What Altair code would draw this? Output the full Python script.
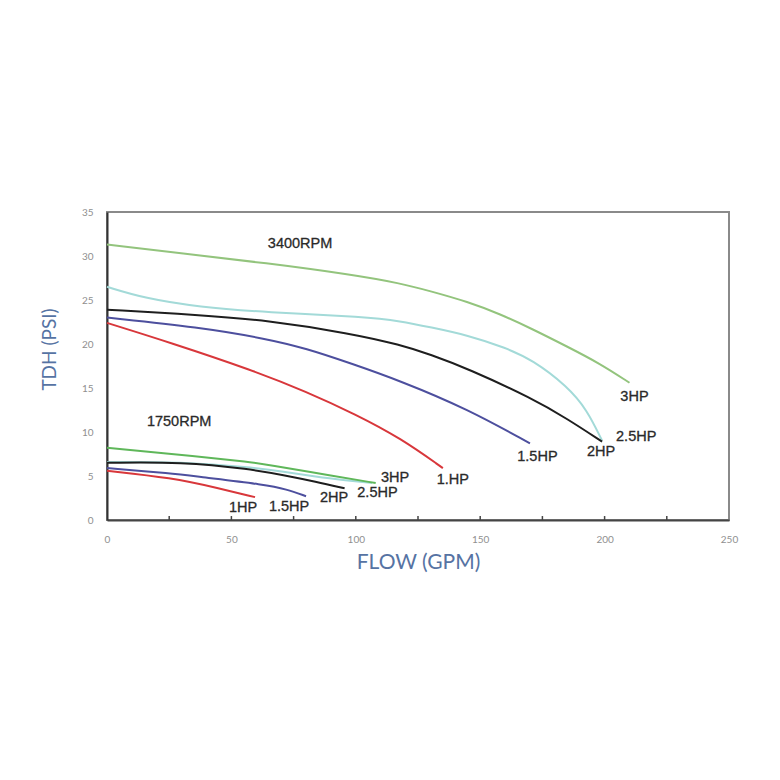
import altair as alt
import pandas as pd

# ---- 3400 RPM curves (flow GPM, TDH PSI) ----
hi_3hp_x = [0, 30, 64, 98, 118, 130, 145, 158, 171, 185, 198, 210]
hi_3hp_y = [31.3, 30.3, 29.2, 27.9, 26.9, 26.0, 24.8, 23.4, 21.7, 19.7, 17.8, 15.6]
hi_25hp_x = [0, 15, 37, 64, 104, 118, 130, 145, 160, 171, 185, 193, 199]
hi_25hp_y = [26.5, 25.2, 24.2, 23.6, 23.1, 22.6, 21.9, 21.0, 19.6, 18.2, 15.2, 12.5, 9.0]
hi_2hp_x = [0, 37, 64, 98, 118, 130, 145, 171, 185, 199]
hi_2hp_y = [23.9, 23.3, 22.7, 21.2, 19.9, 18.8, 17.2, 13.8, 11.5, 8.9]
hi_15hp_x = [0, 37, 64, 80, 98, 118, 145, 170]
hi_15hp_y = [23.0, 21.9, 20.6, 19.5, 17.8, 15.8, 12.6, 8.7]
hi_1hp_x = [0, 25, 58.7, 80, 100, 118, 135]
hi_1hp_y = [22.4, 20.2, 17.0, 14.6, 12.0, 9.3, 5.9]

# ---- 1750 RPM curves ----
lo_3hp_x = [0, 37, 57.5, 64, 91, 108]
lo_3hp_y = [8.2, 7.2, 6.6, 6.3, 5.0, 4.2]
lo_25hp_x = [0, 30, 57.5, 71, 84, 96, 106.5]
lo_25hp_y = [6.6, 6.6, 6.0, 5.5, 4.9, 4.5, 4.2]
lo_2hp_x = [0, 30, 57.5, 71, 84, 95.5]
lo_2hp_y = [6.5, 6.6, 5.8, 5.1, 4.35, 3.6]
lo_15hp_x = [0, 26, 37, 64, 72, 80]
lo_15hp_y = [5.9, 5.3, 4.9, 4.0, 3.5, 2.7]
lo_1hp_x = [0, 26, 45, 59.5]
lo_1hp_y = [5.6, 4.8, 3.6, 2.6]

series = [
    ("hi 2.5HP", hi_25hp_x, hi_25hp_y, "#a3dad8"),
    ("hi 3HP", hi_3hp_x, hi_3hp_y, "#93c47d"),
    ("hi 2HP", hi_2hp_x, hi_2hp_y, "#1e1e1e"),
    ("hi 1.5HP", hi_15hp_x, hi_15hp_y, "#4d4f9e"),
    ("hi 1HP", hi_1hp_x, hi_1hp_y, "#d8373b"),
    ("lo 2.5HP", lo_25hp_x, lo_25hp_y, "#a3dad8"),
    ("lo 3HP", lo_3hp_x, lo_3hp_y, "#5fb75a"),
    ("lo 2HP", lo_2hp_x, lo_2hp_y, "#1e1e1e"),
    ("lo 1.5HP", lo_15hp_x, lo_15hp_y, "#4d4f9e"),
    ("lo 1HP", lo_1hp_x, lo_1hp_y, "#d8373b"),
]

# ---- annotations ----
label_text = ["3400RPM", "1750RPM", "3HP", "2.5HP", "2HP", "1.5HP", "1.HP",
              "3HP", "2.5HP", "2HP", "1.5HP", "1HP"]
label_x = [77.6, 29, 212, 212.7, 198.6, 173, 139, 115.8, 108.7, 91.3, 73.2, 54.7]
label_y = [31.4, 11.1, 14.0, 9.4, 7.7, 7.2, 4.6, 4.8, 3.1, 2.5, 1.5, 1.4]

x_ticks = [25, 50, 75, 100, 125, 150, 175, 200, 225]

xs = alt.Scale(domain=[0, 250], nice=False)
ys = alt.Scale(domain=[0, 35], nice=False)

common = dict(ticks=False, grid=False, labelFlush=False,
              labelFont="Lato", labelFontSize=10, labelColor="#8f8f8f",
              titleFont="Lato", titleFontWeight="normal",
              titleColor="#5673a3")
x_axis = alt.Axis(values=[0, 50, 100, 150, 200, 250], title="FLOW (GPM)",
                  labelPadding=14, titlePadding=7, titleFontSize=21,
                  domainColor="#444", domainWidth=2, **common)
y_axis = alt.Axis(values=[0, 5, 10, 15, 20, 25, 30, 35], title="TDH (PSI)",
                  labelPadding=14, titlePadding=22, titleFontSize=19, titleY=137,
                  domainColor="#333", domainWidth=2, **common)

X = alt.X("flow:Q", scale=xs, axis=x_axis)
Y = alt.Y("tdh:Q", scale=ys, axis=y_axis)

layers = []
for name, xv, yv, col in series:
    df = pd.DataFrame({"flow": xv, "tdh": yv})
    layers.append(
        alt.Chart(df).mark_line(color=col, strokeWidth=2, interpolate="basis")
        .encode(x=X, y=Y)
    )

tick_df = pd.DataFrame({"flow": x_ticks, "tdh": [0] * len(x_ticks), "y1": [0.45] * len(x_ticks)})
layers.append(
    alt.Chart(tick_df).mark_rule(color="#444", strokeWidth=1.5)
    .encode(x=X, y=Y, y2="y1:Q")
)

lab_df = pd.DataFrame({"t": label_text, "flow": label_x, "tdh": label_y})
layers.append(
    alt.Chart(lab_df).mark_text(font="Liberation Sans", fontSize=14.5, color="#2a2a2a",
                                align="center", baseline="middle", stroke="#2a2a2a",
                                strokeWidth=0.3)
    .encode(x=X, y=Y, text="t:N")
)

chart = alt.layer(*layers).properties(
    width=622, height=308,
    background="white",
    autosize=alt.AutoSizeParams(type="none"),
    padding={"left": 99, "top": 204, "right": 30, "bottom": 200},
).configure_view(
    stroke="#8a8a8a", strokeWidth=2
)

chart.save("out.html", embed_options={"renderer": "svg", "actions": False})
